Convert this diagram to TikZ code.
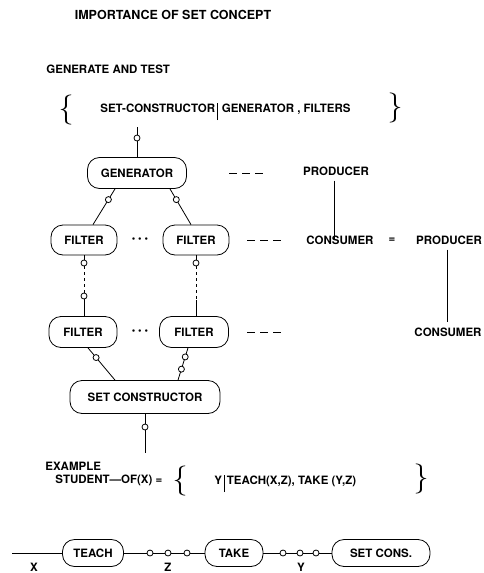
\documentclass[tikz,border=0pt]{standalone}
\usepackage{fontspec}
\setmainfont{TeX Gyre Heros}
\newfontfamily\lmfont{Latin Modern Roman}
\begin{document}
\begin{tikzpicture}[x=1pt,y=-1pt,line width=0.8pt,
  lbl/.style={font=\bfseries\fontsize{11.5}{13}\selectfont,inner sep=0pt},
  pill/.style={lbl,draw,rounded corners=12pt,minimum width=#1},
  dot/.style={circle,draw,fill=white,inner sep=0pt,minimum size=6pt,line width=0.8pt},
  bracechar/.style={font=\lmfont\fontsize{30}{30}\selectfont,inner sep=0pt},
  dashline/.style={dash pattern=on 8pt off 5pt},
  dotrow/.style={font=\fontsize{10}{10}\selectfont,inner sep=0pt}]
\useasboundingbox (0,0) rectangle (483,573);

% headings
\node[lbl,font=\bfseries\fontsize{12.5}{14}\selectfont] (title) at (173,15) {IMPORTANCE OF SET CONCEPT};
\node[lbl,anchor=west] (gat) at (46,69) {GENERATE AND TEST};

% set expression
\node[bracechar] (lb1) at (66,110) {\{};
\node[bracechar] (rb1) at (395,108) {\}};
\node[lbl,anchor=base west] (expr1) at (100,112) {SET-CONSTRUCTOR\,\rule[-8pt]{1pt}{17pt}\,\,GENERATOR , FILTERS};

% generator
\coordinate (t0) at (137,127);
\node[dot] (c0) at (137,138) {};
\node[pill=99pt,minimum height=31pt] (gen) at (137,173) {GENERATOR};
\draw (t0) -- (c0) -- (gen);

% producer / consumer column
\coordinate (d1a) at (229,173); \coordinate (d1b) at (263,173);
\draw[dashline] (d1a) -- (d1b);
\node[lbl] (prod1) at (336,171) {PRODUCER};
\node[lbl] (cons1) at (340,240) {CONSUMER};
\draw ([yshift=-5pt,xshift=-2pt]prod1.south) -- ([yshift=-5pt,xshift=-2pt]prod1.south |- cons1.north);
\node[lbl] (eq) at (392,240) {=};
\node[lbl] (prod2) at (449,240) {PRODUCER};
\node[lbl] (cons2) at (448,332) {CONSUMER};
\draw ([yshift=-5pt,xshift=-2pt]prod2.south) -- ([yshift=5pt,xshift=-2pt]prod2.south |- cons2.north);

% filters row 1
\node[pill=66pt,minimum height=30pt] (f11) at (84,240) {FILTER};
\node[pill=66pt,minimum height=30pt] (f12) at (196,240) {FILTER};
\node[dotrow] (dots1) at (140,240) {\textbullet\ \textbullet\ \textbullet};
\coordinate (d2a) at (247,240); \coordinate (d2b) at (283,240);
\draw[dashline] (d2a) -- (d2b);
\draw ([xshift=-22pt]gen.south) -- node[dot,pos=0.3] (g1) {} ([xshift=9pt]f11.north);
\draw ([xshift=33pt]gen.south) -- node[dot,pos=0.3] (g2) {} ([xshift=-5pt]f12.north);

% filters row 2
\node[pill=68pt,minimum height=31pt] (f21) at (83,332) {FILTER};
\node[pill=69pt,minimum height=31pt] (f22) at (194,332) {FILTER};
\node[dotrow] (dots2) at (140,332) {\textbullet\ \textbullet\ \textbullet};
\coordinate (d3a) at (247,332); \coordinate (d3b) at (283,332);
\draw[dashline] (d3a) -- (d3b);

% vertical links between filter rows
\node[dot] (c11) at (84,263) {};
\node[dot] (c12) at (84,296) {};
\draw (f11.south) -- (c11);
\draw[dashed] (c11) -- (c12);
\draw (c12) -- (c12 |- f21.north);
\node[dot] (c13) at (196,263) {};
\coordinate (k1) at (196,300);
\draw (f12.south) -- (c13);
\draw[dashed] (c13) -- (k1);
\draw (k1) -- (k1 |- f22.north);

% set constructor
\node[pill=150pt,minimum height=33pt] (sc) at (145,397) {SET CONSTRUCTOR};
\draw ([xshift=5pt]f21.south) -- node[dot,pos=0.3] (s1) {} ([xshift=-30pt]sc.north);
\draw ([xshift=-6pt]f22.south) -- node[dot,pos=0.28] (s2) {} node[dot,pos=0.66] (s3) {} ([xshift=33pt]sc.north);
\node[dot] (c5) at (145,427) {};
\coordinate (e5) at (145,453);
\draw (sc) -- (c5) -- (e5);

% example
\node[lbl,anchor=west] (ex) at (45,466) {EXAMPLE};
\node[lbl,anchor=west] (stud) at (55,480) {STUDENT---OF(X) =};
\node[bracechar] (lb2) at (180,481) {\{};
\node[bracechar] (rb2) at (421,479) {\}};
\node[lbl,anchor=base west] (expr2) at (214,484) {Y\,\rule[-8pt]{1pt}{17pt}\,TEACH(X,Z), TAKE (Y,Z)};

% bottom chain
\coordinate (x0) at (12,553);
\node[pill=61pt,minimum height=27pt] (teach) at (93,553) {TEACH};
\node[dot] (b1) at (150,553) {};
\node[dot] (b2) at (168,553) {};
\node[dot] (b3) at (187,553) {};
\node[pill=58pt,minimum height=27pt] (take) at (234,553) {TAKE};
\node[dot] (b4) at (283,553) {};
\node[dot] (b5) at (300,553) {};
\node[dot] (b6) at (316,553) {};
\node[pill=98pt,minimum height=27pt] (setc) at (381,553) {SET CONS.};
\draw (x0) -- (teach);
\draw (teach) -- (b1) -- (b2) -- (b3) -- (take);
\draw (take) -- (b4) -- (b5) -- (b6) -- (setc);
\node[lbl,anchor=base] (lx) at (34,571) {X};
\node[lbl,anchor=base] (lz) at (168,571) {Z};
\node[lbl,anchor=base] (ly) at (301,571) {Y};
\end{tikzpicture}
\end{document}
